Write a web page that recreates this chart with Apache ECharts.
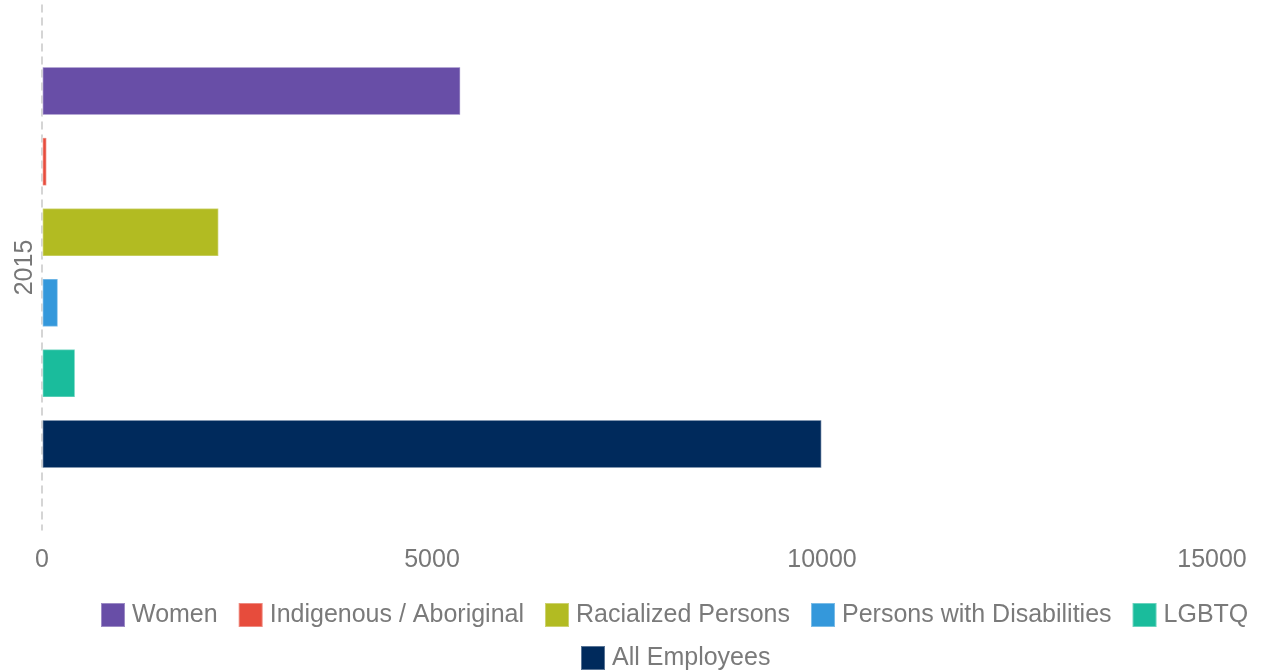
<!DOCTYPE html>
<html>
<head>
<meta charset="utf-8">
<script src="https://cdn.jsdelivr.net/npm/echarts@6/dist/echarts.min.js"></script>
<style>
  html, body { margin: 0; padding: 0; background: #fff; }
  #chart { width: 1270px; height: 671px; }
</style>
</head>
<body>
<div id="chart"></div>
<script>
// Employee counts by group, 2015
const years = ['2015'];
const seriesNames = ['Women', 'Indigenous / Aboriginal', 'Racialized Persons', 'Persons with Disabilities', 'LGBTQ', 'All Employees'];
const women = [5370];
const indigenous = [65];
const racialized = [2270];
const disabilities = [210];
const lgbtq = [430];
const allEmployees = [10000];
const xTicks = [0, 5000, 10000, 15000];

const colors = ['#684ea7', '#e74c3c', '#b2bb22', '#3498db', '#1abc9c', '#002a5c'];
const valuesBySeries = [women, indigenous, racialized, disabilities, lgbtq, allEmployees];

const font = '"Liberation Sans", Arial, sans-serif';

// Shared legend look; the legend is laid out as two rows
const legendBase = {
  orient: 'horizontal',
  padding: 0,
  icon: 'rect',
  itemWidth: 24,
  itemHeight: 24,
  itemGap: 20,
  textStyle: { color: '#7a7a7a', fontSize: 25, fontFamily: font, padding: [0, 0, 0, 2] }
};

const chart = echarts.init(document.getElementById('chart'));
chart.setOption({
  animation: false,
  color: colors,
  grid: { left: 42, right: 58, top: 5, bottom: 141, containLabel: false },
  xAxis: {
    type: 'value',
    min: xTicks[0],
    max: xTicks[xTicks.length - 1],
    interval: xTicks[1] - xTicks[0],
    axisLine: { show: false },
    axisTick: { show: false },
    splitLine: { show: false },
    axisLabel: { color: '#777', fontSize: 25, fontFamily: font, margin: 18, formatter: v => String(v) }
  },
  yAxis: {
    type: 'category',
    data: years,
    inverse: true,
    axisLine: { show: true, lineStyle: { color: '#c8c8c8', width: 1.5, type: [7, 6] } },
    axisTick: { show: false },
    axisLabel: { color: '#777', fontSize: 25, fontFamily: font, rotate: 90, margin: 4 }
  },
  legend: [
    Object.assign({}, legendBase, { left: 100, top: 602, data: seriesNames.slice(0, 5) }),
    Object.assign({}, legendBase, { left: 580, top: 645, data: seriesNames.slice(5) })
  ],
  series: seriesNames.map((name, i) => ({
    name: name,
    type: 'bar',
    data: valuesBySeries[i],
    barWidth: 49,
    barGap: '44%',
    itemStyle: { borderColor: 'rgba(255,255,255,0.35)', borderWidth: 1.5 }
  }))
});
</script>
</body>
</html>
